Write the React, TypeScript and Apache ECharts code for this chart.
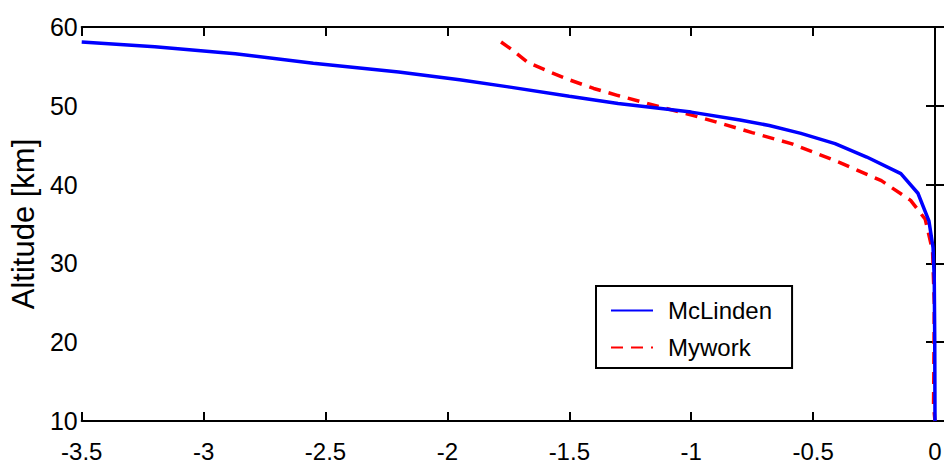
import React, { useEffect, useRef } from "react";
import * as echarts from "echarts";

const mcLindenX = [-3.5, -3.2, -2.87, -2.55, -2.2, -1.95, -1.75, -1.5, -1.3, -1.0, -0.8, -0.68, -0.55, -0.41, -0.28, -0.14, -0.07, -0.025, -0.008, -0.003, -0.001, 0];
const mcLindenAlt = [58.1, 57.5, 56.6, 55.4, 54.3, 53.3, 52.4, 51.2, 50.3, 49.2, 48.2, 47.5, 46.5, 45.2, 43.5, 41.4, 38.9, 35.4, 32.0, 28.0, 20.0, 10.0];

const myworkX = [-1.78, -1.73, -1.67, -1.58, -1.5, -1.4, -1.3, -1.12, -0.96, -0.75, -0.59, -0.39, -0.22, -0.1, -0.04, -0.01, -0.003, -0.005, -0.006, 0];
const myworkAlt = [58.1, 57.0, 55.5, 54.3, 53.3, 52.2, 51.3, 49.8, 48.5, 46.6, 45.2, 42.8, 40.5, 38.0, 35.6, 31.6, 25.0, 15.0, 12.0, 10.0];

const seriesNames = ["McLinden", "Mywork"];
const yAxisTitle = "Altitude [km]";

const FONT = "Liberation Sans, Arial, Helvetica, sans-serif";

export default function App() {
  const ref = useRef<HTMLDivElement>(null);
  useEffect(() => {
    if (!ref.current) return;
    const chart = echarts.init(ref.current, undefined, { renderer: "svg" });
    const baseAxis = {
      axisLine: { show: true, lineStyle: { color: "#000", width: 2 } },
      axisTick: { show: true, inside: true, length: 9, lineStyle: { color: "#000", width: 2 } },
      splitLine: { show: false },
    };
    chart.setOption({
      animation: false,
      backgroundColor: "#fff",
      textStyle: { fontFamily: FONT },
      grid: { left: 74, right: 11, top: 27, bottom: 45 },
      legend: {
        data: seriesNames.map((n) => ({ name: n, itemStyle: { opacity: 0 } })),
        orient: "vertical",
        left: 596,
        top: 286,
        width: 170,
        padding: [12, 20, 8, 14],
        itemWidth: 42,
        itemHeight: 14,
        itemGap: 12,
        borderColor: "#000",
        borderWidth: 2,
        backgroundColor: "#fff",
        textStyle: { fontSize: 24, color: "#000", fontFamily: FONT, padding: [0, 0, 0, 10], lineHeight: 25 },
      },
      xAxis: [
        {
          ...baseAxis,
          type: "value",
          min: -3.5,
          max: 0,
          interval: 0.5,
          axisLabel: { fontSize: 24, color: "#000", margin: 18, fontFamily: FONT },
        },
        {
          ...baseAxis,
          type: "value",
          position: "top",
          min: -3.5,
          max: 0,
          interval: 0.5,
          axisLabel: { show: false },
        },
      ],
      yAxis: [
        {
          ...baseAxis,
          type: "value",
          min: 10,
          max: 60,
          interval: 10,
          name: yAxisTitle,
          nameLocation: "middle",
          nameRotate: 90,
          nameGap: 41,
          nameTextStyle: { fontSize: 31, color: "#000", fontFamily: FONT },
          axisLabel: { fontSize: 25, color: "#000", margin: 4, fontFamily: FONT },
        },
        {
          ...baseAxis,
          type: "value",
          position: "right",
          min: 10,
          max: 60,
          interval: 10,
          axisLabel: { show: false },
        },
      ],
      series: [
        {
          name: seriesNames[0],
          type: "line",
          symbol: "none",
          smooth: false,
          data: mcLindenX.map((x, i) => [x, mcLindenAlt[i]]),
          lineStyle: { color: "#0000ff", width: 3.5 },
          itemStyle: { color: "#0000ff" },
          z: 3,
        },
        {
          name: seriesNames[1],
          type: "line",
          symbol: "none",
          smooth: false,
          data: myworkX.map((x, i) => [x, myworkAlt[i]]),
          lineStyle: { color: "#ff0000", width: 3.5, type: [12, 8] },
          itemStyle: { color: "#ff0000" },
          z: 2,
        },
      ],
    });
    return () => chart.dispose();
  }, []);
  return (
    <div
      ref={ref}
      style={{ position: "fixed", left: 0, top: 0, width: 946, height: 466, background: "#fff" }}
    />
  );
}
